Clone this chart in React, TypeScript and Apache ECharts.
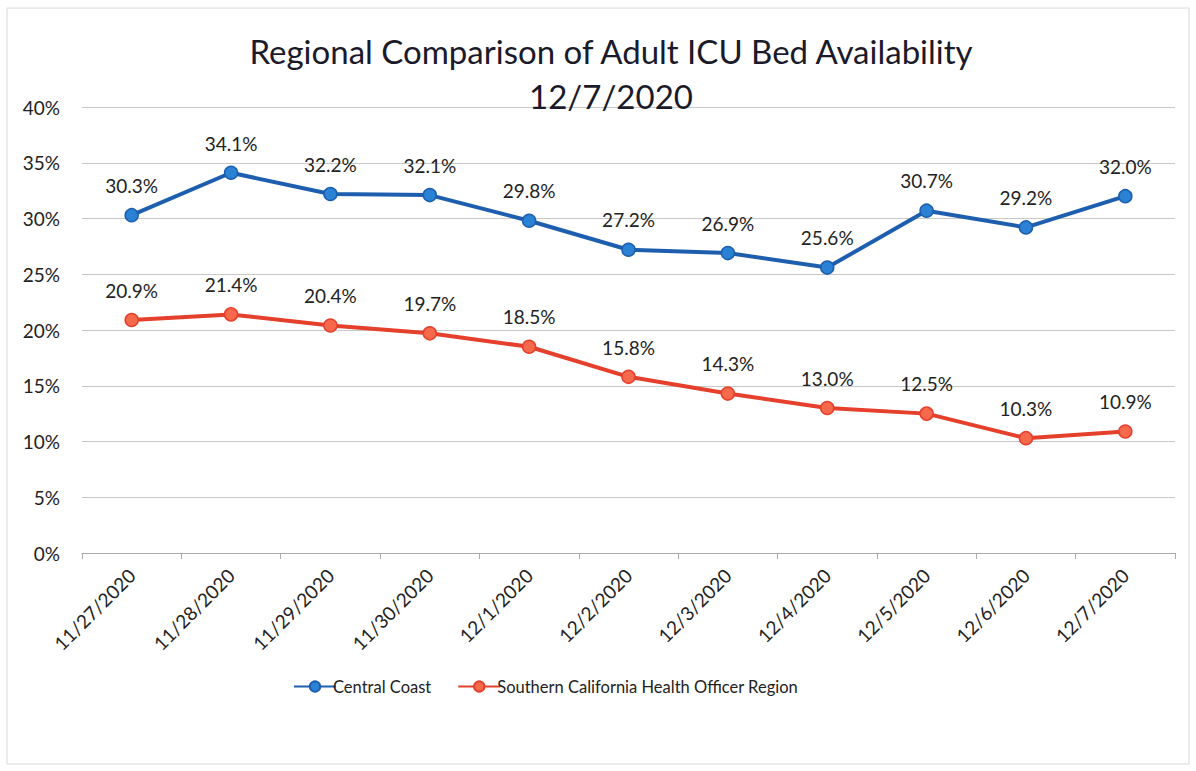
import React, { useEffect, useRef } from "react";
import * as echarts from "echarts";

const categories = [
  "11/27/2020", "11/28/2020", "11/29/2020", "11/30/2020", "12/1/2020", "12/2/2020",
  "12/3/2020", "12/4/2020", "12/5/2020", "12/6/2020", "12/7/2020",
];
const centralCoast = [30.3, 34.1, 32.2, 32.1, 29.8, 27.2, 26.9, 25.6, 30.7, 29.2, 32.0];
const southernCal = [20.9, 21.4, 20.4, 19.7, 18.5, 15.8, 14.3, 13.0, 12.5, 10.3, 10.9];
const titleLines = ["Regional Comparison of Adult ICU Bed Availability", "12/7/2020"];

const FONT = "Lato, 'Open Sans', sans-serif";

export default function App() {
  const ref = useRef<HTMLDivElement>(null);
  useEffect(() => {
    if (!ref.current) return;
    const chart = echarts.init(ref.current, null, { renderer: "svg" });
    const mkSeries = (name: string, data: number[], line: string, fill: string) => ({
      name,
      type: "line",
      data,
      symbol: "circle",
      symbolSize: 13,
      lineStyle: { color: line, width: 4 },
      itemStyle: { color: fill, borderColor: line, borderWidth: 1.5 },
      label: {
        show: true,
        position: "top",
        distance: 13,
        formatter: (p: any) => p.value.toFixed(1) + "%",
        fontFamily: FONT,
        fontSize: 19,
        color: "#222",
      },
    });
    chart.setOption({
      animation: false,
      backgroundColor: "#fff",
      title: {
        text: titleLines.join("\n"),
        left: 606,
        textAlign: "center",
        top: 23,
        textStyle: { fontFamily: FONT, fontSize: 33, fontWeight: "normal", color: "#1a1a2a", lineHeight: 45 },
      },
      grid: { left: 82, right: 21, top: 107, bottom: 218 },
      legend: {
        left: 288,
        top: 673,
        itemWidth: 42,
        itemHeight: 13,
        itemGap: 26,
        textStyle: { fontFamily: FONT, fontSize: 16.5, color: "#222", padding: [0, 0, 0, -8] },
        data: ["Central Coast", "Southern California Health Officer Region"],
      },
      xAxis: {
        type: "category",
        data: categories,
        boundaryGap: true,
        axisLine: { lineStyle: { color: "#aaa", width: 1 } },
        axisTick: { show: true, length: 6, lineStyle: { color: "#aaa" } },
        axisLabel: { rotate: 45, fontFamily: FONT, fontSize: 19, color: "#222", margin: 19, interval: 0 },
      },
      yAxis: {
        type: "value",
        min: 0,
        max: 40,
        interval: 5,
        axisLine: { show: false },
        axisTick: { show: false },
        splitLine: { lineStyle: { color: "#c8c8c8", width: 1 } },
        axisLabel: { formatter: "{value}%", fontFamily: FONT, fontSize: 19, color: "#222", margin: 22 },
      },
      graphic: [
        {
          type: "rect",
          shape: { x: 7, y: 8, width: 1182, height: 756 },
          style: { fill: "none", stroke: "#d8d8d8", lineWidth: 1 },
          silent: true,
        },
      ],
      series: [
        mkSeries("Central Coast", centralCoast, "#1d5fae", "#2b82d4"),
        mkSeries("Southern California Health Officer Region", southernCal, "#e4402c", "#f7694c"),
      ],
    });
    return () => chart.dispose();
  }, []);
  return <div ref={ref} style={{ position: "fixed", left: 0, top: 0, width: 1196, height: 771 }} />;
}
